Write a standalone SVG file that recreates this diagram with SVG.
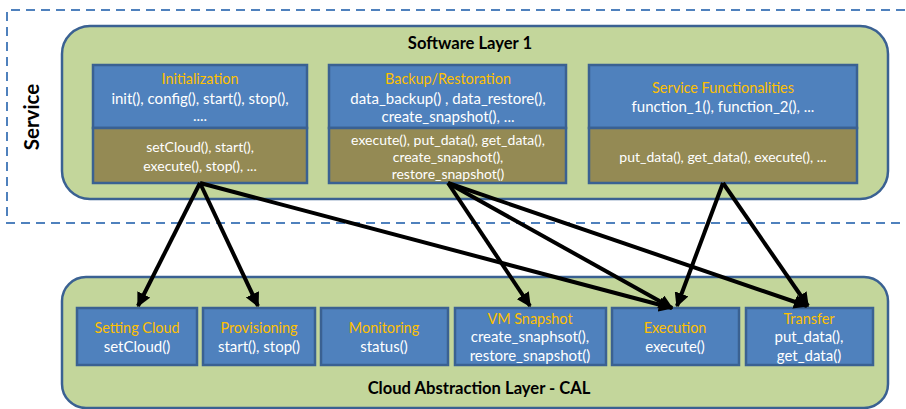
<svg xmlns="http://www.w3.org/2000/svg" width="906" height="409" viewBox="0 0 906 409">
<style>
  text { font-family: Lato, "Open Sans", "Liberation Sans", sans-serif; text-anchor: middle; }
  .layer { fill: #c3d69b; stroke: #3a6192; stroke-width: 2.5; }
  .blue { fill: #4f81bd; stroke: #3a6192; stroke-width: 2.5; }
  .olive { fill: #948a54; stroke: #3a6192; stroke-width: 2.5; }
  .hd { fill: #ffc000; font-size: 14.4px; }
  .wt { fill: #ffffff; font-size: 15px; }
  .ws { fill: #ffffff; font-size: 14px; }
  .title { fill: #000; font-size: 16.6px; font-weight: bold; }
  .conn line { stroke: #000; stroke-width: 4; marker-end: url(#ah); }
</style>
<defs>
  <marker id="ah" viewBox="0 0 10 10" refX="9" refY="5" markerWidth="3.6" markerHeight="3.6" orient="auto" markerUnits="strokeWidth">
    <path d="M0,0 L10,5 L0,10 z" fill="#000"/>
  </marker>
</defs>
<rect width="906" height="409" fill="#fff"/>

<g id="service">
  <path d="M920,10 H7 V223 H920" fill="none" stroke="#4f81bd" stroke-width="2" stroke-dasharray="9,6"/>
  <text x="39" y="117" transform="rotate(-90 39 117)" style="font-size:20.5px;font-weight:bold;fill:#000">Service</text>
</g>

<g id="software-layer">
  <rect class="layer" x="62" y="26" width="826" height="173" rx="28"/>
  <text class="title" x="470" y="49">Software Layer 1</text>
</g>

<g id="initialization">
  <rect class="blue" x="93" y="65" width="214" height="63"/>
  <rect class="olive" x="93" y="128" width="214" height="55"/>
  <text class="hd" x="200" y="84">Initialization</text>
  <text class="wt" x="200" y="104">init(), config(), start(), stop(),</text>
  <text class="wt" x="200" y="121">....</text>
  <text class="ws" x="200" y="152">setCloud(), start(),</text>
  <text class="ws" x="200" y="171">execute(), stop(), ...</text>
</g>

<g id="backup">
  <rect class="blue" x="329" y="65" width="237" height="63"/>
  <rect class="olive" x="329" y="128" width="237" height="55"/>
  <text class="hd" x="448" y="84">Backup/Restoration</text>
  <text class="wt" x="448" y="104">data_backup() , data_restore(),</text>
  <text class="wt" x="448" y="122">create_snapshot(), ...</text>
  <text class="ws" x="448" y="145">execute(), put_data(), get_data(),</text>
  <text class="ws" x="448" y="162">create_snapshot(),</text>
  <text class="ws" x="448" y="179">restore_snapshot()</text>
</g>

<g id="service-functionalities">
  <rect class="blue" x="589" y="65" width="268" height="63"/>
  <rect class="olive" x="589" y="128" width="268" height="55"/>
  <text class="hd" x="723" y="93">Service Functionalities</text>
  <text class="wt" x="723" y="112">function_1(), function_2(), ...</text>
  <text class="ws" x="723" y="162">put_data(), get_data(), execute(), ...</text>
</g>

<g id="cal">
  <rect class="layer" x="62" y="277" width="826" height="131" rx="24"/>
  <text class="title" x="479" y="394">Cloud Abstraction Layer - CAL</text>
</g>

<g id="setting-cloud">
  <rect class="blue" x="77" y="308" width="120" height="57"/>
  <text class="hd" x="137" y="333">Setting Cloud</text>
  <text class="wt" x="137" y="352">setCloud()</text>
</g>
<g id="provisioning">
  <rect class="blue" x="203" y="308" width="112" height="57"/>
  <text class="hd" x="259" y="333">Provisioning</text>
  <text class="wt" x="259" y="352">start(), stop()</text>
</g>
<g id="monitoring">
  <rect class="blue" x="321" y="308" width="127" height="57"/>
  <text class="hd" x="384" y="333">Monitoring</text>
  <text class="wt" x="384" y="352">status()</text>
</g>
<g id="vm-snapshot">
  <rect class="blue" x="455" y="308" width="151" height="57"/>
  <text class="hd" x="530" y="324">VM Snapshot</text>
  <text class="wt" x="530" y="342">create_snaphsot(),</text>
  <text class="wt" x="530" y="361">restore_snapshot()</text>
</g>
<g id="execution">
  <rect class="blue" x="612" y="308" width="127" height="57"/>
  <text class="hd" x="675" y="333">Execution</text>
  <text class="wt" x="675" y="352">execute()</text>
</g>
<g id="transfer">
  <rect class="blue" x="746" y="308" width="127" height="57"/>
  <text class="hd" x="809" y="324">Transfer</text>
  <text class="wt" x="809" y="342">put_data(),</text>
  <text class="wt" x="809" y="361">get_data()</text>
</g>

<g id="connectors" class="conn">
  <line x1="200" y1="183" x2="138" y2="306"/>
  <line x1="200" y1="183" x2="258" y2="306"/>
  <line x1="200" y1="183" x2="672" y2="308"/>
  <line x1="448" y1="183" x2="530" y2="306"/>
  <line x1="448" y1="183" x2="672" y2="308"/>
  <line x1="448" y1="183" x2="807" y2="306"/>
  <line x1="723" y1="183" x2="677" y2="306"/>
  <line x1="723" y1="183" x2="808" y2="306"/>
</g>
</svg>
